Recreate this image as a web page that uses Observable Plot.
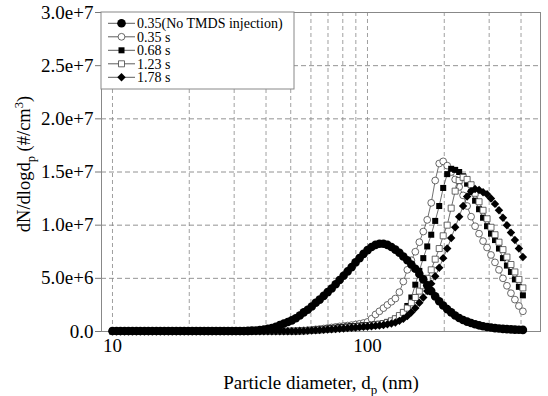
<!DOCTYPE html>
<html><head><meta charset="utf-8">
<script src="https://cdn.jsdelivr.net/npm/d3@7"></script>
<script src="https://cdn.jsdelivr.net/npm/@observablehq/plot@0.6"></script>
<style>body{margin:0;background:#fff} svg{display:block} svg text{font-family:"Times New Roman","Liberation Serif",Tinos,Times,"Nimbus Roman","Nimbus Roman No9 L","FreeSerif","Noto Serif","DejaVu Serif",serif !important}</style>
</head><body><div id="chart"></div>
<script>
// Particle diameters (nm), SMPS channels
const diameters = [
10.00,10.37,10.75,11.15,11.55,11.97,12.41,12.86,13.34,13.82,
14.33,14.86,15.40,15.97,16.55,17.15,17.78,18.43,19.11,19.81,
20.54,21.29,22.07,22.88,23.71,24.58,25.48,26.42,27.38,28.39,
29.43,30.50,31.62,32.78,33.98,35.22,36.52,37.85,39.24,40.68,
42.17,43.71,45.32,46.98,48.70,50.48,52.33,54.25,56.23,58.29,
60.43,62.64,64.94,67.32,69.78,72.34,74.99,77.74,80.59,83.54,
86.60,89.77,93.06,96.47,100.0,103.7,107.5,111.4,115.5,119.7,
124.1,128.6,133.4,138.2,143.3,148.6,154.0,159.7,165.5,171.5,
177.8,184.3,191.1,198.1,205.4,212.9,220.7,228.8,237.1,245.8,
254.8,264.2,273.8,283.9,294.3,305.0,316.2,327.8,339.8,352.2,
365.2,378.5,392.4,406.8];

// dN/dlogdp values in units of 1e6 #/cm3
const noTmds = [
0.05,0.05,0.05,0.05,0.05,0.05,0.05,0.05,0.05,0.05,
0.05,0.05,0.05,0.05,0.05,0.05,0.05,0.05,0.05,0.05,
0.05,0.05,0.05,0.05,0.05,0.05,0.05,0.05,0.05,0.05,
0.05,0.05,0.05,0.05,0.06,0.08,0.10,0.13,0.18,0.25,
0.33,0.45,0.60,0.75,0.90,1.05,1.25,1.50,1.80,2.05,
2.35,2.70,3.00,3.35,3.70,4.05,4.45,4.85,5.25,5.65,
6.05,6.50,6.90,7.30,7.65,7.95,8.15,8.25,8.25,8.15,
7.95,7.70,7.40,7.05,6.70,6.30,5.90,5.40,4.90,4.35,
3.80,3.30,2.85,2.45,2.10,1.80,1.50,1.27,1.08,0.93,
0.80,0.68,0.58,0.50,0.43,0.37,0.32,0.28,0.25,0.22,
0.20,0.18,0.16,0.15];

const t035 = [
0.02,0.02,0.02,0.02,0.02,0.02,0.02,0.02,0.02,0.02,
0.02,0.02,0.02,0.02,0.02,0.02,0.02,0.02,0.02,0.02,
0.02,0.02,0.02,0.02,0.02,0.02,0.02,0.02,0.02,0.02,
0.02,0.02,0.02,0.02,0.02,0.02,0.02,0.02,0.02,0.02,
0.02,0.02,0.02,0.02,0.02,0.04,0.06,0.08,0.10,0.13,
0.16,0.20,0.24,0.28,0.33,0.38,0.43,0.48,0.52,0.56,
0.60,0.65,0.72,0.80,0.90,1.20,1.60,1.90,2.20,2.50,
2.80,3.10,3.70,4.70,5.80,6.70,7.50,8.40,9.40,10.5,
12.1,14.2,15.8,16.0,15.6,15.0,14.3,13.6,12.8,11.8,
10.8,9.9,9.2,8.5,7.9,7.2,6.5,5.8,5.0,4.3,
3.6,3.0,2.4,1.9];

const t068 = [
0.02,0.02,0.02,0.02,0.02,0.02,0.02,0.02,0.02,0.02,
0.02,0.02,0.02,0.02,0.02,0.02,0.02,0.02,0.02,0.02,
0.02,0.02,0.02,0.02,0.02,0.02,0.02,0.02,0.02,0.02,
0.02,0.02,0.02,0.02,0.02,0.02,0.02,0.02,0.02,0.02,
0.02,0.02,0.02,0.02,0.02,0.02,0.02,0.05,0.07,0.10,
0.13,0.16,0.20,0.24,0.28,0.32,0.36,0.40,0.44,0.47,
0.50,0.52,0.55,0.58,0.60,0.63,0.67,0.72,0.80,0.90,
1.0,1.2,1.4,1.8,2.4,3.2,4.4,5.7,6.9,8.0,
9.1,10.4,11.8,13.5,14.8,15.3,15.2,15.0,14.6,13.9,
13.1,12.3,11.5,10.7,9.9,9.2,8.6,7.8,6.9,6.2,
5.6,4.9,4.2,3.4];

const t123 = [
0.02,0.02,0.02,0.02,0.02,0.02,0.02,0.02,0.02,0.02,
0.02,0.02,0.02,0.02,0.02,0.02,0.02,0.02,0.02,0.02,
0.02,0.02,0.02,0.02,0.02,0.02,0.02,0.02,0.02,0.02,
0.02,0.02,0.02,0.02,0.02,0.02,0.02,0.02,0.02,0.02,
0.02,0.02,0.02,0.02,0.02,0.02,0.02,0.04,0.06,0.08,
0.10,0.12,0.15,0.18,0.21,0.24,0.27,0.30,0.33,0.36,
0.40,0.43,0.46,0.50,0.53,0.57,0.62,0.68,0.75,0.85,
1.0,1.2,1.5,1.8,2.2,2.7,3.2,3.8,4.3,5.0,
5.8,6.8,7.8,9.0,10.0,11.6,13.2,14.2,14.5,14.3,
13.8,13.0,12.2,11.4,10.6,9.8,9.1,8.4,7.7,7.0,
6.3,5.6,4.9,4.1];

const t178 = [
0.02,0.02,0.02,0.02,0.02,0.02,0.02,0.02,0.02,0.02,
0.02,0.02,0.02,0.02,0.02,0.02,0.02,0.02,0.02,0.02,
0.02,0.02,0.02,0.02,0.02,0.02,0.02,0.02,0.02,0.02,
0.02,0.02,0.02,0.02,0.02,0.02,0.02,0.02,0.02,0.02,
0.02,0.02,0.02,0.02,0.02,0.02,0.02,0.04,0.05,0.07,
0.09,0.11,0.13,0.15,0.18,0.20,0.23,0.26,0.29,0.32,
0.35,0.38,0.41,0.44,0.47,0.50,0.53,0.57,0.62,0.68,
0.75,0.85,1.0,1.2,1.45,1.8,2.2,2.7,3.2,3.8,
4.5,5.2,6.0,6.9,7.8,8.8,9.8,10.8,11.8,12.7,
13.2,13.4,13.3,13.1,12.9,12.5,12.0,11.4,10.7,10.0,
9.3,8.6,7.8,7.0];

const seriesNames = ["0.35(No TMDS injection)", "0.35 s", "0.68 s", "1.23 s", "1.78 s"];
const seriesValues = [noTmds, t035, t068, t123, t178];
const yTicks = [0, 5e6, 1e7, 1.5e7, 2e7, 2.5e7, 3e7];
const yGrid = [5e6, 1e7, 1.5e7, 2e7, 2.5e7];
const xTickLabels = [10, 100];
const xGrid = [10, 20, 30, 40, 50, 60, 70, 80, 90, 100, 200, 300, 400];

const styles = [
  {symbol: "circle",   d3sym: d3.symbolCircle,   fill: "#000", stroke: "none", r: 4.3},
  {symbol: "circle",   d3sym: d3.symbolCircle,   fill: "#fff", stroke: "#444", r: 3.4},
  {symbol: "square",   d3sym: d3.symbolSquare,   fill: "#000", stroke: "none", r: 3.4},
  {symbol: "square",   d3sym: d3.symbolSquare,   fill: "#fff", stroke: "#444", r: 3.4},
  {symbol: "diamond2", d3sym: d3.symbolDiamond2, fill: "#000", stroke: "none", r: 3.8}
];

const series = seriesValues.map((vals, k) =>
  diameters.map((d, i) => ({d, v: vals[i] * 1e6, s: seriesNames[k]})));

const font = "'Times New Roman', 'Liberation Serif', Tinos, Times, 'Nimbus Roman', FreeSerif, 'Noto Serif', 'DejaVu Serif', serif";
const fmt = v => v === 0 ? "0.0" : v.toExponential(1);

const seriesMarks = [];
const order = [1, 2, 3, 4, 0];
for (const k of order) {
  const st = styles[k];
  seriesMarks.push(Plot.line(series[k], {x: "d", y: "v", stroke: "#333", strokeWidth: 0.7}));
  seriesMarks.push(Plot.dot(series[k], {x: "d", y: "v", symbol: st.symbol, r: st.r,
    fill: st.fill, stroke: st.stroke, strokeWidth: 0.8}));
}

const plot = Plot.plot({
  width: 548, height: 396,
  marginLeft: 101, marginRight: 8, marginTop: 12, marginBottom: 65,
  style: {fontFamily: font, background: "#fff", color: "#000"},
  x: {type: "log", domain: [9.055, 476.9]},
  y: {domain: [0, 3e7]},
  marks: [
    Plot.gridY(yGrid, {stroke: "#777", strokeOpacity: 1, strokeDasharray: "5,3", strokeWidth: 0.8}),
    Plot.gridX(xGrid, {stroke: "#888", strokeOpacity: 1, strokeDasharray: "4,3", strokeWidth: 0.8}),
    Plot.frame({stroke: "#888", strokeWidth: 1}),
    Plot.axisY(yTicks, {tickSize: 6, tickPadding: 2, tickFormat: fmt, fontSize: 19,
      stroke: "#777", fill: "#000", label: null}),
    Plot.axisX(xTickLabels, {tickSize: 0, tickPadding: 7, tickFormat: d => String(d), fontSize: 19,
      fill: "#000", label: null}),
    ...seriesMarks
  ]
});
document.getElementById("chart").appendChild(plot);

const svg = d3.select(plot);
// Legend
const lg = svg.append("g").attr("font-family", font).attr("font-size", 14).attr("text-anchor", "start");
lg.append("rect").attr("x", 101).attr("y", 12).attr("width", 193).attr("height", 77)
  .attr("fill", "#fff").attr("stroke", "#888").attr("stroke-width", 1);
seriesNames.forEach((name, k) => {
  const y = 23.3 + k * 13.5;
  const st = styles[k];
  lg.append("line").attr("x1", 108).attr("x2", 135).attr("y1", y).attr("y2", y)
    .attr("stroke", "#333").attr("stroke-width", 0.8);
  lg.append("path").attr("transform", `translate(121.5,${y})`)
    .attr("d", d3.symbol(st.d3sym, Math.PI * st.r * st.r)())
    .attr("fill", st.fill).attr("stroke", st.stroke).attr("stroke-width", 0.8);
  lg.append("text").attr("x", 137).attr("y", y).attr("dy", "0.35em")
    .attr("text-anchor", "start").attr("fill", "#000").text(name);
});

// Y axis label
const yl = svg.append("text").attr("transform", "translate(30,164) rotate(-90)")
  .attr("text-anchor", "middle").attr("font-family", font).attr("font-size", 18.5).attr("fill", "#000");
yl.append("tspan").text("dN/dlogd");
yl.append("tspan").attr("dy", 5).attr("font-size", 12.5).text("p");
yl.append("tspan").attr("dy", -5).text(" (#/cm");
yl.append("tspan").attr("dy", -7).attr("font-size", 12.5).text("3");
yl.append("tspan").attr("dy", 7).text(")");

// X axis label
const xl = svg.append("text").attr("x", 321).attr("y", 389)
  .attr("text-anchor", "middle").attr("font-family", font).attr("font-size", 19).attr("fill", "#000");
xl.append("tspan").text("Particle diameter, d");
xl.append("tspan").attr("dy", 5).attr("font-size", 13).text("p");
xl.append("tspan").attr("dy", -5).text(" (nm)");
</script>
</body></html>
